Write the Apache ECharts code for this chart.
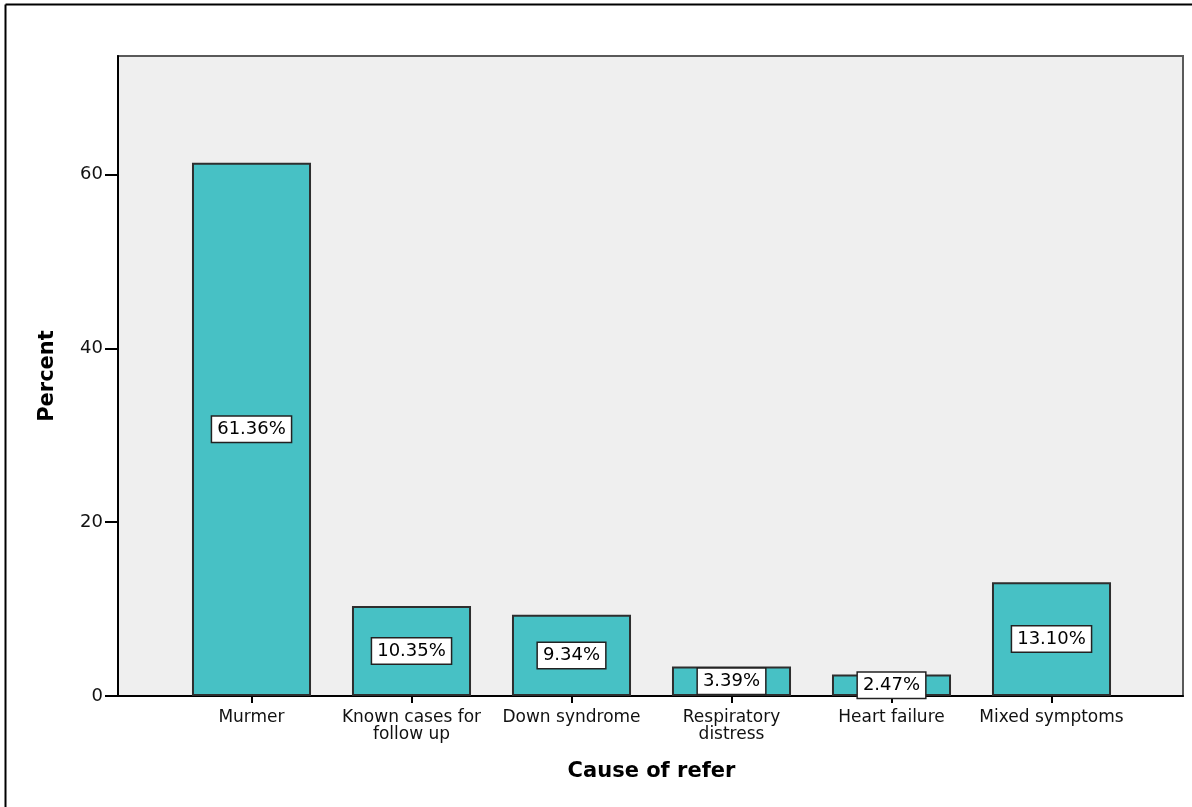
<!DOCTYPE html>
<html>
<head>
<meta charset="utf-8">
<script src="https://cdn.jsdelivr.net/npm/echarts@6/dist/echarts.min.js"></script>
<style>
  html, body { margin: 0; padding: 0; background: #ffffff; }
  #chart { width: 1192px; height: 807px; }
</style>
</head>
<body>
<div id="chart"></div>
<script>
// Referral causes and their share of patients (percent)
const categories = [
  'Murmer',
  'Known cases for\nfollow up',
  'Down syndrome',
  'Respiratory\ndistress',
  'Heart failure',
  'Mixed symptoms'
];
const percents = [61.36, 10.35, 9.34, 3.39, 2.47, 13.10];
const yTicks = [0, 20, 40, 60];
const yMax = 73.63;

const FONT = 'DejaVu Sans';
const chart = echarts.init(document.getElementById('chart'), null, { renderer: 'canvas' });

chart.setOption({
  animation: false,
  backgroundColor: '#ffffff',
  textStyle: { fontFamily: FONT },
  graphic: [
    // outer frame (left and top edges)
    { type: 'line', shape: { x1: 5.5, y1: 4.5, x2: 5.5, y2: 807 }, style: { stroke: '#000', lineWidth: 2 } },
    { type: 'line', shape: { x1: 5.5, y1: 4.5, x2: 1192, y2: 4.5 }, style: { stroke: '#000', lineWidth: 2 } }
  ],
  grid: [
    // frame grid: shaded plot area, value axis and baseline
    { left: 118, right: 9, top: 56, bottom: 111, show: true, backgroundColor: '#efefef',
      borderColor: '#5a5a5a', borderWidth: 2 },
    // bar grid: category band of 160px per cause
    { left: 171.5, right: 60.5, top: 56, bottom: 111 }
  ],
  xAxis: [
    { gridIndex: 0, type: 'value', min: 0, max: 1,
      axisLine: { show: true, lineStyle: { color: '#000', width: 2 } },
      axisTick: { show: false }, axisLabel: { show: false }, splitLine: { show: false } },
    { gridIndex: 1, type: 'category', data: categories,
      axisLine: { show: false },
      axisTick: { show: true, alignWithLabel: true, length: 7, lineStyle: { color: '#000', width: 2 } },
      axisLabel: { color: '#111', fontSize: 17, fontFamily: FONT, lineHeight: 17, margin: 13, interval: 0 },
      name: 'Cause of refer', nameLocation: 'middle', nameGap: 65,
      nameTextStyle: { fontSize: 21, fontWeight: 'bold', color: '#000', fontFamily: FONT } }
  ],
  yAxis: [
    { gridIndex: 0, type: 'value', min: 0, max: yMax, interval: 20,
      axisLine: { show: true, lineStyle: { color: '#000', width: 2 } },
      axisTick: { show: true, length: 13, customValues: yTicks, lineStyle: { color: '#000', width: 2 } },
      axisLabel: { show: true, customValues: yTicks, color: '#111', fontSize: 18, fontFamily: FONT, margin: 15 },
      splitLine: { show: false },
      name: 'Percent', nameLocation: 'middle', nameGap: 60, nameRotate: 90,
      nameTextStyle: { fontSize: 21, fontWeight: 'bold', color: '#000', fontFamily: FONT } },
    { gridIndex: 1, type: 'value', min: 0, max: yMax, show: false, splitLine: { show: false } }
  ],
  series: [
    {
      type: 'bar',
      xAxisIndex: 1,
      yAxisIndex: 1,
      data: percents,
      barCategoryGap: '25.6%',
      itemStyle: { color: '#47c1c5', borderColor: '#2e2e2e', borderWidth: 2 },
      label: {
        show: true,
        position: 'inside',
        formatter: p => p.value.toFixed(2) + '%',
        color: '#000',
        fontSize: 18,
        fontFamily: FONT,
        lineHeight: 18,
        backgroundColor: '#ffffff',
        borderColor: '#222',
        borderWidth: 1.5,
        padding: [4, 5, 3, 5]
      }
    }
  ]
});
</script>
</body>
</html>
